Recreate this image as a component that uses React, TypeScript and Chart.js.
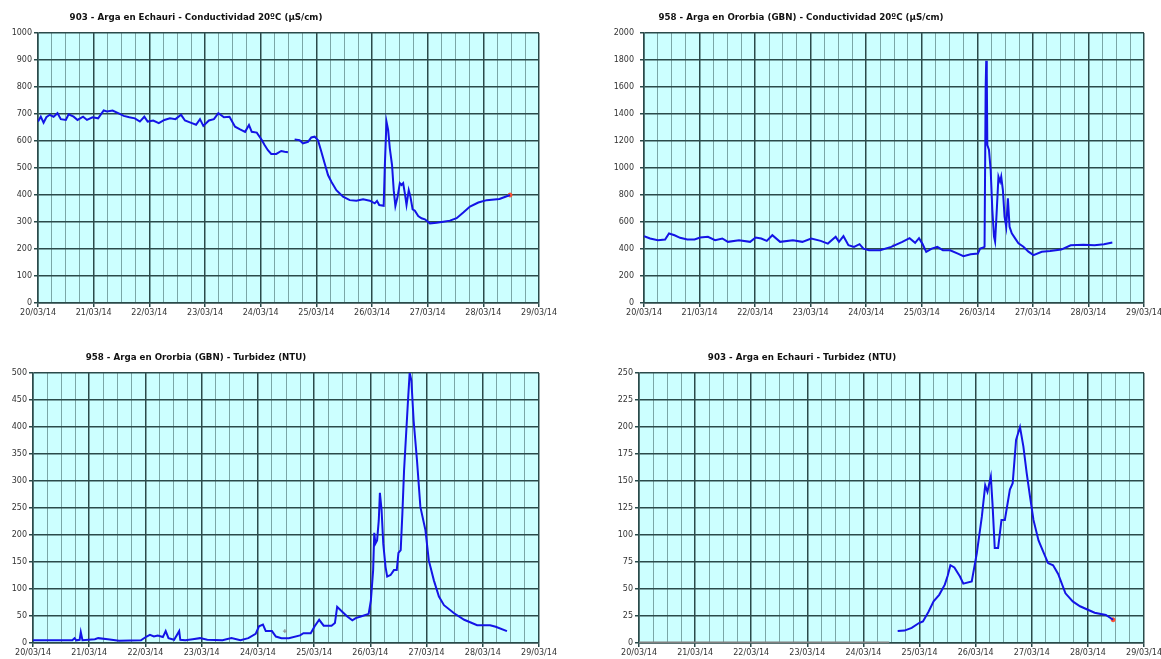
import React, { useEffect, useRef } from 'react';
import { Chart, registerables } from 'chart.js';

Chart.register(...registerables);

// ---------- tick labels ----------
const dateLabels = ['20/03/14', '21/03/14', '22/03/14', '23/03/14', '24/03/14', '25/03/14', '26/03/14', '27/03/14', '28/03/14', '29/03/14'];

// ---------- titles ----------
const titles = [
  '903 - Arga en Echauri - Conductividad 20ºC (µS/cm)',
  '958 - Arga en Ororbia (GBN) - Conductividad 20ºC (µS/cm)',
  '958 - Arga en Ororbia (GBN) - Turbidez (NTU)',
  '903 - Arga en Echauri - Turbidez (NTU)',
];

// ---------- data (x = days since 20/03/14 00:00) ----------
const cond903Times = [0, 0.05, 0.1, 0.15, 0.21, 0.28, 0.35, 0.41, 0.5, 0.55, 0.64, 0.71, 0.81, 0.88, 0.98, 1.08, 1.18, 1.24, 1.34, 1.44, 1.54, 1.64, 1.74, 1.83, 1.91, 1.97, 2.07, 2.17, 2.27, 2.37, 2.47, 2.57, 2.64, 2.74, 2.84, 2.91, 2.97, 3.07, 3.16, 3.24, 3.34, 3.44, 3.54, 3.63, 3.72, 3.79, 3.84, 3.93, 4.02, 4.07, 4.13, 4.19, 4.28, 4.37, 4.43, 4.49, 4.55, 4.61, 4.7, 4.76, 4.85, 4.91, 4.97, 5.03, 5.09, 5.15, 5.21, 5.27, 5.36, 5.48, 5.6, 5.72, 5.84, 5.96, 6.05, 6.09, 6.13, 6.21, 6.23, 6.26, 6.29, 6.32, 6.36, 6.39, 6.42, 6.46, 6.5, 6.53, 6.56, 6.59, 6.62, 6.66, 6.69, 6.73, 6.77, 6.83, 6.89, 6.95, 7.04, 7.16, 7.28, 7.4, 7.52, 7.64, 7.76, 7.91, 8.06, 8.29, 8.48];
const cond903Values = [672, 690, 668, 688, 697, 690, 703, 681, 678, 699, 690, 678, 690, 678, 688, 684, 713, 709, 713, 703, 693, 688, 684, 672, 690, 672, 676, 666, 678, 684, 681, 697, 676, 668, 660, 681, 656, 676, 681, 703, 688, 690, 653, 643, 634, 659, 634, 631, 604, 585, 566, 552, 552, 563, 560, 558, null, 606, 603, 591, 597, 613, 616, 603, 560, 517, 474, 449, 418, 394, 381, 379, 384, 379, 369, 378, 363, 360, 505, 672, 641, 573, 511, 418, 359, 394, 444, 437, 444, 406, 363, 418, 394, 347, 342, 322, 314, 310, 295, 297, 301, 305, 314, 335, 357, 372, 381, 385, 400];

const cond958Times = [0, 0.11, 0.25, 0.38, 0.45, 0.55, 0.65, 0.78, 0.91, 1.01, 1.15, 1.28, 1.41, 1.51, 1.71, 1.91, 2.01, 2.11, 2.21, 2.31, 2.45, 2.68, 2.85, 3.01, 3.18, 3.31, 3.45, 3.51, 3.59, 3.68, 3.78, 3.88, 3.95, 4.05, 4.25, 4.45, 4.65, 4.78, 4.88, 4.95, 5.01, 5.08, 5.18, 5.28, 5.38, 5.51, 5.65, 5.75, 5.88, 6.01, 6.05, 6.11, 6.13, 6.15, 6.16, 6.17, 6.18, 6.21, 6.24, 6.27, 6.3, 6.32, 6.35, 6.38, 6.41, 6.43, 6.46, 6.49, 6.52, 6.55, 6.58, 6.62, 6.68, 6.74, 6.83, 6.92, 7.01, 7.16, 7.31, 7.51, 7.68, 7.91, 8.11, 8.28, 8.43];
const cond958Values = [495, 478, 465, 470, 515, 502, 483, 470, 470, 485, 490, 465, 478, 453, 465, 453, 485, 478, 460, 502, 453, 465, 453, 478, 460, 440, 490, 453, 495, 428, 416, 436, 403, 391, 391, 416, 453, 480, 446, 480, 440, 379, 403, 416, 391, 391, 366, 347, 361, 366, 403, 411, 417, 1600, 1795, 1700, 1170, 1133, 985, 689, 491, 454, 689, 936, 899, 936, 837, 640, 565, 775, 565, 516, 479, 442, 417, 380, 355, 380, 386, 396, 428, 431, 428, 436, 448];

const turb958Times = [0, 0.41, 0.7, 0.74, 0.77, 0.83, 0.85, 0.88, 1.1, 1.16, 1.33, 1.53, 1.92, 2.02, 2.08, 2.15, 2.22, 2.31, 2.36, 2.41, 2.51, 2.6, 2.62, 2.71, 2.84, 2.97, 3.1, 3.37, 3.53, 3.69, 3.83, 3.96, 4.02, 4.09, 4.14, 4.25, 4.32, 4.42, 4.55, 4.75, 4.81, 4.94, 5.01, 5.09, 5.17, 5.31, 5.37, 5.41, 5.5, 5.59, 5.68, 5.74, 5.83, 5.97, 6.01, 6.05, 6.07, 6.09, 6.12, 6.15, 6.17, 6.2, 6.23, 6.27, 6.3, 6.36, 6.42, 6.47, 6.5, 6.54, 6.57, 6.6, 6.65, 6.67, 6.7, 6.73, 6.77, 6.83, 6.89, 6.98, 7.04, 7.13, 7.22, 7.31, 7.49, 7.67, 7.9, 8.13, 8.23, 8.43];
const turb958Values = [5, 5, 5, 9, 5, 6, 20, 5, 7, 9, 7, 4, 5, 12, 15, 12, 14, 11, 22, 9, 6, 22, 6, 5, 7, 9, 6, 5, 9, 5, 9, 17, 31, 34, 22, 22, 12, 9, 9, 14, 18, 18, 31, 43, 32, 32, 37, 67, 58, 49, 42, 46, 49, 54, 79, 135, 204, 184, 190, 227, 278, 246, 184, 141, 123, 126, 135, 135, 167, 172, 240, 320, 412, 449, 501, 486, 412, 338, 252, 209, 153, 116, 86, 70, 55, 43, 33, 33, 30, 22];

const turb903NoDataTimes = [0, 4.46];
const turb903NoDataValues = [0, 0];
const turb903Times = [4.61, 4.73, 4.86, 4.99, 5.06, 5.16, 5.25, 5.35, 5.45, 5.5, 5.55, 5.62, 5.72, 5.78, 5.93, 6.02, 6.11, 6.17, 6.21, 6.27, 6.3, 6.34, 6.4, 6.46, 6.52, 6.61, 6.66, 6.72, 6.79, 6.85, 6.91, 6.97, 7.03, 7.12, 7.2, 7.29, 7.38, 7.47, 7.6, 7.73, 7.86, 7.99, 8.12, 8.32, 8.45];
const turb903Values = [11, 11.5, 14, 18.5, 20, 29, 38.5, 44.6, 54, 62, 72, 70, 61.6, 55, 57, 83, 117, 146, 140, 154, 129, 88, 88, 114, 114, 142, 148, 188, 200, 182, 157, 135, 114, 95, 85, 74, 72, 64, 46, 38.5, 34, 31, 28, 26, 21.5];

// single markers
const cond903EndTimes = [8.48];
const cond903EndValues = [400];
const cond958MarkTimes = [4.5];
const cond958MarkValues = [428];
const turb958MarkTimes = [4.48];
const turb958MarkValues = [22];
const turb903EndTimes = [8.45];
const turb903EndValues = [21.5];

// ---------- styling ----------
const MAJOR = '#2a4a4a';
const MINOR = '#7aa6a6';
const PLOT_BG = '#ccffff';
const LINE = '#1414e6';
const FONT = 'DejaVu Sans';

const pts = (ts: number[], vs: (number | null)[]) => ts.map((t, i) => ({ x: t, y: vs[i] }));
const isMajor = (v: any) => typeof v === 'number' && Math.abs(v - Math.round(v)) < 1e-6;

type Spec = {
  left: number; top: number; w: number; h: number;
  yw: number; pr: number; pt: number; xh: number; pb: number;
  yMax: number; yStep: number; yPad: number;
  title: string; titleX: number; titleY: number;
  datasets: any[];
};

const lineDs = (ts: number[], vs: (number | null)[], color = LINE, width = 2) => ({
  type: 'line', data: pts(ts, vs), borderColor: color, borderWidth: width,
  pointRadius: 0, fill: false, tension: 0, spanGaps: false,
});
const markDs = (ts: number[], vs: number[], color: string, style = 'circle') => ({
  type: 'line', data: pts(ts, vs), showLine: false, pointRadius: 2, pointStyle: style,
  pointBackgroundColor: color, pointBorderColor: color, pointBorderWidth: 1,
});

const specs: Spec[] = [
  {
    left: 0, top: 0, w: 580, h: 330, yw: 38, pr: 41, pt: 33, xh: 20, pb: 7,
    yMax: 1000, yStep: 100, yPad: 2, title: titles[0], titleX: 196, titleY: 18,
    datasets: [lineDs(cond903Times, cond903Values), markDs(cond903EndTimes, cond903EndValues, '#ff5030')],
  },
  {
    left: 580, top: 0, w: 581, h: 330, yw: 64, pr: 17, pt: 33, xh: 20, pb: 7,
    yMax: 2000, yStep: 200, yPad: 6, title: titles[1], titleX: 221, titleY: 18,
    datasets: [lineDs(cond958Times, cond958Values), markDs(cond958MarkTimes, cond958MarkValues, '#888888', 'cross')],
  },
  {
    left: 0, top: 330, w: 580, h: 329, yw: 33, pr: 41, pt: 43, xh: 16, pb: 0,
    yMax: 500, yStep: 50, yPad: 2, title: titles[2], titleX: 196, titleY: 28,
    datasets: [lineDs(turb958Times, turb958Values), markDs(turb958MarkTimes, turb958MarkValues, '#888888', 'cross')],
  },
  {
    left: 580, top: 330, w: 581, h: 329, yw: 59, pr: 17, pt: 43, xh: 16, pb: 0,
    yMax: 250, yStep: 25, yPad: 2, title: titles[3], titleX: 222, titleY: 28,
    datasets: [
      lineDs(turb903NoDataTimes, turb903NoDataValues, '#808080', 3),
      lineDs(turb903Times, turb903Values),
      markDs(turb903EndTimes, turb903EndValues, '#ff5030'),
    ],
  },
];

function makeConfig(s: Spec): any {
  const bgPlugin = {
    id: 'plotBg',
    beforeDraw(chart: any) {
      const { ctx, chartArea } = chart;
      ctx.save();
      ctx.fillStyle = PLOT_BG;
      ctx.fillRect(chartArea.left, chartArea.top, chartArea.right - chartArea.left, chartArea.bottom - chartArea.top);
      ctx.restore();
    },
    afterDraw(chart: any) {
      const { ctx } = chart;
      ctx.save();
      ctx.fillStyle = '#111';
      ctx.font = `bold 8.7px "${FONT}"`;
      ctx.textAlign = 'center';
      ctx.textBaseline = 'middle';
      ctx.fillText(s.title, s.titleX, s.titleY);
      ctx.restore();
    },
  };
  return {
    type: 'line',
    data: { datasets: s.datasets },
    options: {
      animation: false,
      responsive: false,
      devicePixelRatio: 1,
      events: [],
      layout: { padding: { left: 0, top: s.pt, right: s.pr, bottom: s.pb } },
      plugins: { legend: { display: false }, tooltip: { enabled: false }, title: { display: false } },
      scales: {
        x: {
          type: 'linear', min: 0, max: 9,
          afterFit: (sc: any) => { sc.height = s.xh; sc.paddingLeft = 0; sc.paddingRight = 0; },
          ticks: {
            stepSize: 0.25, autoSkip: false, maxRotation: 0, minRotation: 0, padding: 1,
            color: '#333', font: { family: FONT, size: 8 },
            callback: (v: any) => (isMajor(v) ? dateLabels[Math.round(v)] : ''),
          },
          grid: {
            color: (c: any) => (isMajor(c.tick && c.tick.value) ? MAJOR : MINOR),
            lineWidth: (c: any) => (isMajor(c.tick && c.tick.value) ? 1.5 : 1),
            tickColor: (c: any) => (isMajor(c.tick && c.tick.value) ? MAJOR : 'rgba(0,0,0,0)'),
            tickLength: 4,
          },
          border: { color: MAJOR, width: 1.5 },
        },
        y: {
          type: 'linear', min: 0, max: s.yMax,
          afterFit: (sc: any) => { sc.width = s.yw; },
          ticks: {
            stepSize: s.yStep, padding: s.yPad, color: '#333', font: { family: FONT, size: 8 },
            callback: (v: any) => String(v),
          },
          grid: { color: MAJOR, lineWidth: 1.5, tickLength: 4, tickColor: MAJOR },
          border: { color: MAJOR, width: 1.5 },
        },
      },
    },
    plugins: [bgPlugin],
  };
}

function Panel({ spec }: { spec: Spec }) {
  const ref = useRef<HTMLCanvasElement | null>(null);
  useEffect(() => {
    if (!ref.current) return;
    const chart = new Chart(ref.current, makeConfig(spec));
    return () => chart.destroy();
  }, [spec]);
  return (
    <canvas
      ref={ref}
      width={spec.w}
      height={spec.h}
      style={{ position: 'absolute', left: spec.left, top: spec.top, width: spec.w, height: spec.h }}
    />
  );
}

export default function App() {
  return (
    <div style={{ position: 'absolute', left: 0, top: 0, width: 1161, height: 659, background: '#ffffff', overflow: 'hidden' }}>
      {specs.map((s, i) => (
        <Panel key={i} spec={s} />
      ))}
    </div>
  );
}
